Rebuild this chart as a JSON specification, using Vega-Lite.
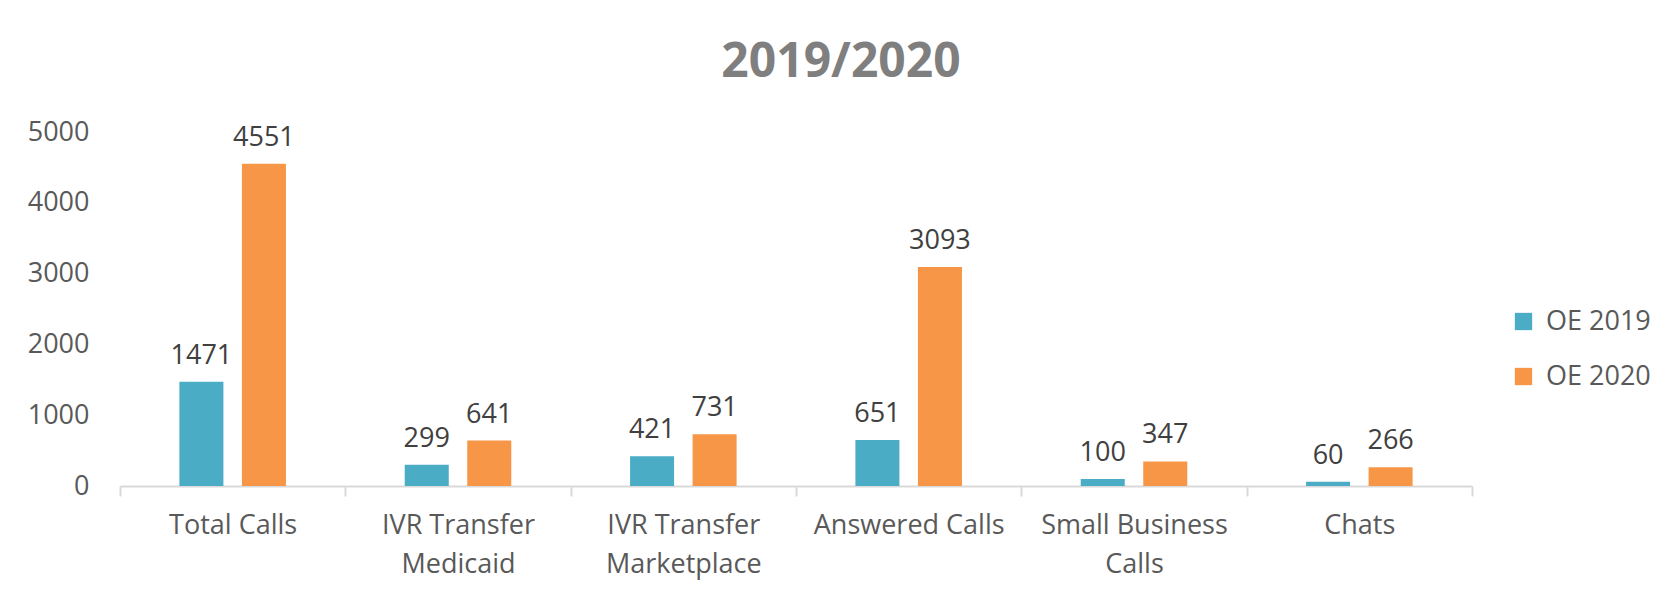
{
  "$schema": "https://vega.github.io/schema/vega-lite/v6.json",
  "autosize": {"type": "none"},
  "width": 1352,
  "height": 354,
  "padding": {"left": 120, "top": 132, "right": 198, "bottom": 111},
  "background": "white",
  "title": {
    "text": "2019/2020",
    "font": "Open Sans",
    "fontSize": 48,
    "fontWeight": "bold",
    "color": "#7f7f7f",
    "anchor": "middle",
    "dx": 45,
    "dy": 60,
    "baseline": "alphabetic",
    "offset": 53
  },
  "data": {
    "values": [
      {"category": "Total Calls", "series": "OE 2019", "value": 1471},
      {"category": "Total Calls", "series": "OE 2020", "value": 4551},
      {"category": "IVR Transfer Medicaid", "series": "OE 2019", "value": 299},
      {"category": "IVR Transfer Medicaid", "series": "OE 2020", "value": 641},
      {"category": "IVR Transfer Marketplace", "series": "OE 2019", "value": 421},
      {"category": "IVR Transfer Marketplace", "series": "OE 2020", "value": 731},
      {"category": "Answered Calls", "series": "OE 2019", "value": 651},
      {"category": "Answered Calls", "series": "OE 2020", "value": 3093},
      {"category": "Small Business Calls", "series": "OE 2019", "value": 100},
      {"category": "Small Business Calls", "series": "OE 2020", "value": 347},
      {"category": "Chats", "series": "OE 2019", "value": 60},
      {"category": "Chats", "series": "OE 2020", "value": 266}
    ]
  },
  "encoding": {
    "x": {
      "field": "category",
      "type": "nominal",
      "sort": null,
      "scale": {"paddingInner": 0, "paddingOuter": 0},
      "axis": {
        "title": null,
        "labelAngle": 0,
        "labelFont": "Open Sans",
        "labelFontSize": 27,
        "labelColor": "#595959",
        "labelPadding": 16,
        "labelLineHeight": 39,
        "labelLimit": 400,
        "labelBaseline": "top",
        "labelExpr": "datum.label == 'IVR Transfer Medicaid' ? ['IVR Transfer', 'Medicaid'] : datum.label == 'IVR Transfer Marketplace' ? ['IVR Transfer', 'Marketplace'] : datum.label == 'Small Business Calls' ? ['Small Business', 'Calls'] : datum.label",
        "domainColor": "#d9d9d9",
        "domainWidth": 2,
        "tickColor": "#d9d9d9",
        "tickWidth": 2,
        "tickSize": 10,
        "tickBand": "extent",
        "grid": false
      }
    },
    "xOffset": {
      "field": "series",
      "type": "nominal",
      "scale": {"paddingInner": 0.296, "paddingOuter": 0.95}
    },
    "y": {
      "field": "value",
      "type": "quantitative",
      "scale": {"domain": [0, 5000], "nice": false},
      "axis": {
        "title": null,
        "values": [0, 1000, 2000, 3000, 4000, 5000],
        "format": "d",
        "labelFont": "Open Sans",
        "labelFontSize": 27,
        "labelColor": "#595959",
        "labelPadding": 31,
        "ticks": false,
        "tickSize": 0,
        "domain": false,
        "grid": false
      }
    }
  },
  "layer": [
    {
      "mark": {"type": "bar"},
      "encoding": {
        "color": {
          "field": "series",
          "type": "nominal",
          "scale": {"domain": ["OE 2019", "OE 2020"], "range": ["#4bacc6", "#f79646"]},
          "legend": {
            "title": null,
            "orient": "none",
            "legendX": 1390,
            "legendY": 176,
            "padding": 0,
            "symbolType": "square",
            "symbolSize": 300,
            "symbolStrokeWidth": 0,
            "symbolOpacity": 1,
            "labelFont": "Open Sans",
            "labelFontSize": 27,
            "labelColor": "#595959",
            "labelOffset": 9,
            "rowPadding": 27
          }
        }
      }
    },
    {
      "mark": {
        "type": "text",
        "font": "Open Sans",
        "fontSize": 27,
        "color": "#404040",
        "baseline": "alphabetic",
        "dy": -18
      },
      "encoding": {
        "text": {"field": "value", "type": "quantitative"}
      }
    }
  ],
  "config": {"view": {"stroke": null}}
}
